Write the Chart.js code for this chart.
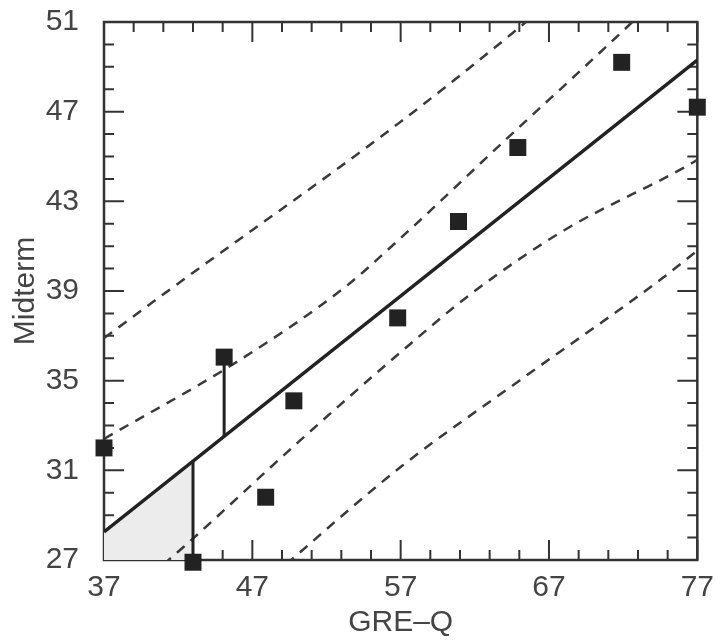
<!DOCTYPE html>
<html lang="en">
<head>
    <meta charset="UTF-8">
    <title>Midterm vs GRE-Q</title>
    <script src="https://cdn.jsdelivr.net/npm/chart.js"></script>
    <style>
        html, body { margin: 0; padding: 0; background: #fff; }
        #wrap { width: 716px; height: 641px; }
    </style>
</head>
<body>
    <div id="wrap"><canvas id="chart"></canvas></div>
    <script>
        // Students: GRE-Q score vs midterm score
        const greQ    = [37, 43, 45.1, 47.9, 49.8, 56.8, 60.9, 64.9, 71.9, 77];
        const midterm = [32, 26.9, 36.05, 29.8, 34.1, 37.8, 42.1, 45.4, 49.2, 47.2];

        // fitted regression line (ends)
        const fitX = [37, 77];
        const fitY = [28.25, 49.3];

        // dashed bands
        const outerUpX = [37, 41.2, 56.9, 64.9, 66.5];
        const outerUpY = [36.9, 38.95, 46.5, 50.7, 51.6];
        const innerUpX = [37, 46.1, 53.3, 56.9, 64, 72.3, 74];
        const innerUpY = [32.4, 35.9, 39.2, 41.3, 45.7, 50.8, 51.9];
        const innerLoX = [41, 42.4, 50, 56.7, 61.8, 68, 76.1, 77];
        const innerLoY = [26.8, 27.6, 32.2, 36.1, 38.9, 41.7, 44.5, 44.85];
        const outerLoX = [49.3, 49.8, 57.1, 65, 74.5, 77];
        const outerLoY = [26.8, 27.1, 31.2, 35.0, 39.5, 40.8];

        // residuals that are marked, and the shaded area end
        const residualIdx = [2, 1];
        const shadeToX = 43;

        const xTickLabels = [37, 47, 57, 67, 77];
        const yTickLabels = [27, 31, 35, 39, 43, 47, 51];
        const xMinorTicks = [37, 39, 41, 43, 45, 47, 49, 51, 53, 55, 57, 59, 61, 63, 65, 67, 69, 71, 73, 75, 77];
        const yMinorTicks = [27, 28, 29, 30, 31, 32, 33, 34, 35, 36, 37, 38, 39, 40, 41, 42, 43, 44, 45, 46, 47, 48, 49, 50, 51];

        const ink = '#222';
        const fontFamily = '"Liberation Sans", Arial, sans-serif';

        function fitAt(x) {
            return fitY[0] + (fitY[1] - fitY[0]) * (x - fitX[0]) / (fitX[1] - fitX[0]);
        }
        function pts(xs, ys) {
            return xs.map((x, i) => ({ x: x, y: ys[i] }));
        }

        function dashed(xs, ys) {
            return {
                data: pts(xs, ys),
                borderColor: '#3a3a3a',
                borderWidth: 2.5,
                borderDash: [10, 8],
                pointRadius: 0,
                fill: false,
                cubicInterpolationMode: 'monotone'
            };
        }

        const residuals = residualIdx.map(i => ({
            data: [{ x: greQ[i], y: midterm[i] }, { x: greQ[i], y: fitAt(greQ[i]) }],
            borderColor: ink,
            borderWidth: 3,
            pointRadius: 0,
            fill: false
        }));

        // frame and inward ticks on all four sides
        const framePlugin = {
            id: 'frame',
            beforeDatasetsDraw(chart) {
                const { ctx, chartArea: a, scales: { x, y } } = chart;
                ctx.save();
                ctx.strokeStyle = '#333';
                ctx.lineWidth = 2;
                ctx.beginPath();
                xMinorTicks.forEach(v => {
                    const px = x.getPixelForValue(v);
                    const len = xTickLabels.includes(v) ? 20 : 10;
                    ctx.moveTo(px, a.bottom); ctx.lineTo(px, a.bottom - len);
                    ctx.moveTo(px, a.top); ctx.lineTo(px, a.top + len);
                });
                yMinorTicks.forEach(v => {
                    const py = y.getPixelForValue(v);
                    const len = yTickLabels.includes(v) ? 20 : 10;
                    ctx.moveTo(a.left, py); ctx.lineTo(a.left + len, py);
                    ctx.moveTo(a.right, py); ctx.lineTo(a.right - len, py);
                });
                ctx.stroke();
                ctx.lineWidth = 2.5;
                ctx.strokeRect(a.left, a.top, a.right - a.left, a.bottom - a.top);
                ctx.restore();
            }
        };

        new Chart(document.getElementById('chart'), {
            type: 'line',
            data: {
                datasets: [
                    {
                        data: pts(greQ, midterm),
                        showLine: false,
                        pointStyle: 'rect',
                        pointRadius: 12,
                        pointBackgroundColor: ink,
                        pointBorderWidth: 0,
                        clip: false
                    },
                    ...residuals,
                    {
                        data: pts(fitX, fitY),
                        borderColor: ink,
                        borderWidth: 3.5,
                        pointRadius: 0,
                        fill: false
                    },
                    dashed(outerUpX, outerUpY),
                    dashed(innerUpX, innerUpY),
                    dashed(innerLoX, innerLoY),
                    dashed(outerLoX, outerLoY),
                    {
                        data: [{ x: fitX[0], y: fitY[0] }, { x: shadeToX, y: fitAt(shadeToX) }],
                        borderWidth: 0,
                        pointRadius: 0,
                        backgroundColor: '#ececec',
                        fill: 'start'
                    }
                ]
            },
            options: {
                responsive: true,
                maintainAspectRatio: false,
                animation: false,
                layout: { padding: { top: 22, right: 0, bottom: 0, left: 0 } },
                plugins: {
                    legend: { display: false },
                    tooltip: { enabled: false }
                },
                scales: {
                    x: {
                        type: 'linear',
                        min: 37,
                        max: 77,
                        afterBuildTicks: scale => { scale.ticks = xTickLabels.map(v => ({ value: v })); },
                        afterFit: scale => { scale.height = 81; },
                        grid: { display: false },
                        border: { display: false },
                        ticks: {
                            autoSkip: false,
                            maxRotation: 0,
                            padding: 2,
                            color: '#444',
                            font: { family: fontFamily, size: 30 }
                        },
                        title: {
                            display: true,
                            text: 'GRE–Q',
                            color: '#444',
                            padding: { top: 0, bottom: 0 },
                            font: { family: fontFamily, size: 30 }
                        }
                    },
                    y: {
                        min: 27,
                        max: 51,
                        afterBuildTicks: scale => { scale.ticks = yTickLabels.map(v => ({ value: v })); },
                        afterFit: scale => {
                            scale.width = 104;
                            scale.paddingTop = 0;
                            scale.paddingBottom = 0;
                        },
                        grid: { display: false },
                        border: { display: false },
                        ticks: {
                            autoSkip: false,
                            padding: 17,
                            color: '#444',
                            font: { family: fontFamily, size: 30 }
                        },
                        title: {
                            display: true,
                            text: 'Midterm',
                            color: '#444',
                            padding: { top: 8, bottom: 10 },
                            font: { family: fontFamily, size: 30 }
                        }
                    }
                }
            },
            plugins: [framePlugin]
        });
    </script>
</body>
</html>
